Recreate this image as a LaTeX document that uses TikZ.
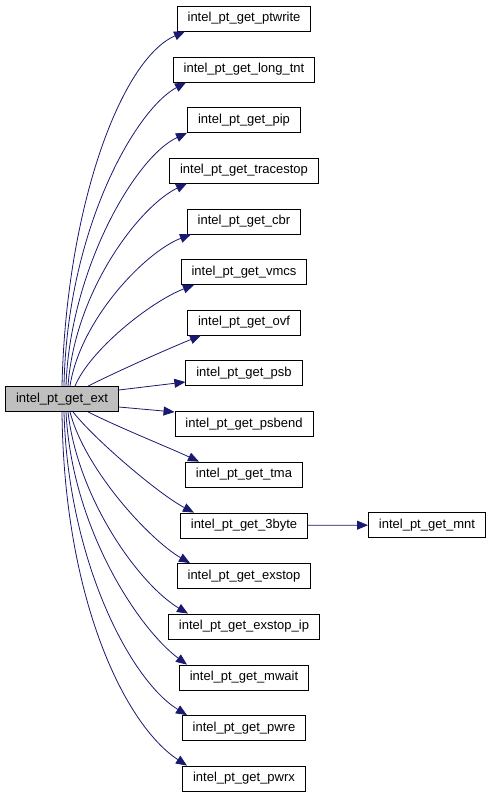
\documentclass[tikz,border=0pt]{standalone}
\usepackage{fontspec}
\setmainfont{Liberation Sans}
\usetikzlibrary{arrows.meta}

\definecolor{callblue}{HTML}{191970}
\definecolor{rootgrey}{HTML}{BFBFBF}

\begin{document}
\begin{tikzpicture}[x=1pt, y=-1pt,
        fn/.style = {shape=rectangle, draw, line width=0.8pt, inner xsep=10.5pt, inner ysep=0pt,
            minimum height=25pt, font=\fontsize{13}{15}\selectfont},
        rootfn/.style = {fn, fill=rootgrey},
        call/.style = {draw=callblue, line width=0.8pt, -{Triangle[length=11pt, width=9pt]}}]

    \useasboundingbox (0, 0) rectangle (492, 797);

    \node[rootfn] (ext) at (62, 399) {intel\_pt\_get\_ext};

    \node[fn] (ptwrite) at (244, 18.5) {intel\_pt\_get\_ptwrite};
    \node[fn] (longtnt) at (244, 69.5) {intel\_pt\_get\_long\_tnt};
    \node[fn] (pip) at (244, 120) {intel\_pt\_get\_pip};
    \node[fn] (tracestop) at (244, 170.5) {intel\_pt\_get\_tracestop};
    \node[fn] (cbr) at (244, 221.5) {intel\_pt\_get\_cbr};
    \node[fn] (vmcs) at (244, 272) {intel\_pt\_get\_vmcs};
    \node[fn] (ovf) at (244, 322.5) {intel\_pt\_get\_ovf};
    \node[fn] (psb) at (244, 373) {intel\_pt\_get\_psb};
    \node[fn] (psbend) at (244, 424) {intel\_pt\_get\_psbend};
    \node[fn] (tma) at (244, 474.5) {intel\_pt\_get\_tma};
    \node[fn] (threebyte) at (244, 525.5) {intel\_pt\_get\_3byte};
    \node[fn] (exstop) at (244, 576) {intel\_pt\_get\_exstop};
    \node[fn] (exstopip) at (244, 626.5) {intel\_pt\_get\_exstop\_ip};
    \node[fn] (mwait) at (244, 677.5) {intel\_pt\_get\_mwait};
    \node[fn] (pwre) at (244, 728) {intel\_pt\_get\_pwre};
    \node[fn] (pwrx) at (244, 778.5) {intel\_pt\_get\_pwrx};

    \node[fn] (mnt) at (427, 525) {intel\_pt\_get\_mnt};

    % calls leaving the top of the caller
    \draw[call] ([xshift=0pt]ext.north) .. controls (66, 210) and (120, 60) .. ([xshift=-59pt]ptwrite.south);
    \draw[call] ([xshift=2pt]ext.north) .. controls (67, 230) and (135, 110) .. ([xshift=-58pt]longtnt.south);
    \draw[call] ([xshift=4pt]ext.north) .. controls (70, 270) and (135, 157) .. ([xshift=-57pt]pip.south);
    \draw[call] ([xshift=6pt]ext.north) .. controls (75, 290) and (140, 206) .. ([xshift=-57pt]tracestop.south);
    \draw[call] ([xshift=8pt]ext.north) .. controls (80, 320) and (145, 252) .. ([xshift=-53pt]cbr.south);
    \draw[call] ([xshift=13pt]ext.north) .. controls (90, 350) and (150, 302) .. ([xshift=-50pt]vmcs.south);
    \draw[call] ([xshift=26pt]ext.north) .. controls (120, 370) and (170, 348) .. ([xshift=-43pt]ovf.south);

    % calls leaving the right side
    \draw[call] ([yshift=9pt]ext.east) -- ([yshift=-9pt]psb.west);
    \draw[call] ([yshift=-8pt]ext.east) -- ([yshift=12pt]psbend.west);

    % calls leaving the bottom
    \draw[call] ([xshift=26pt]ext.south) .. controls (120, 428) and (170, 448) .. ([xshift=-45pt]tma.north);
    \draw[call] ([xshift=11pt]ext.south) .. controls (95, 440) and (160, 495) .. ([xshift=-50pt]threebyte.north);
    \draw[call] ([xshift=8pt]ext.south) .. controls (85, 470) and (150, 540) .. ([xshift=-54pt]exstop.north);
    \draw[call] ([xshift=6pt]ext.south) .. controls (78, 500) and (140, 585) .. ([xshift=-56pt]exstopip.north);
    \draw[call] ([xshift=4pt]ext.south) .. controls (72, 530) and (140, 630) .. ([xshift=-57pt]mwait.north);
    \draw[call] ([xshift=2pt]ext.south) .. controls (68, 560) and (130, 680) .. ([xshift=-57pt]pwre.north);
    \draw[call] ([xshift=0pt]ext.south) .. controls (64, 600) and (125, 725) .. ([xshift=-57pt]pwrx.north);

    \draw[call] (threebyte) -- (mnt);

\end{tikzpicture}
\end{document}
